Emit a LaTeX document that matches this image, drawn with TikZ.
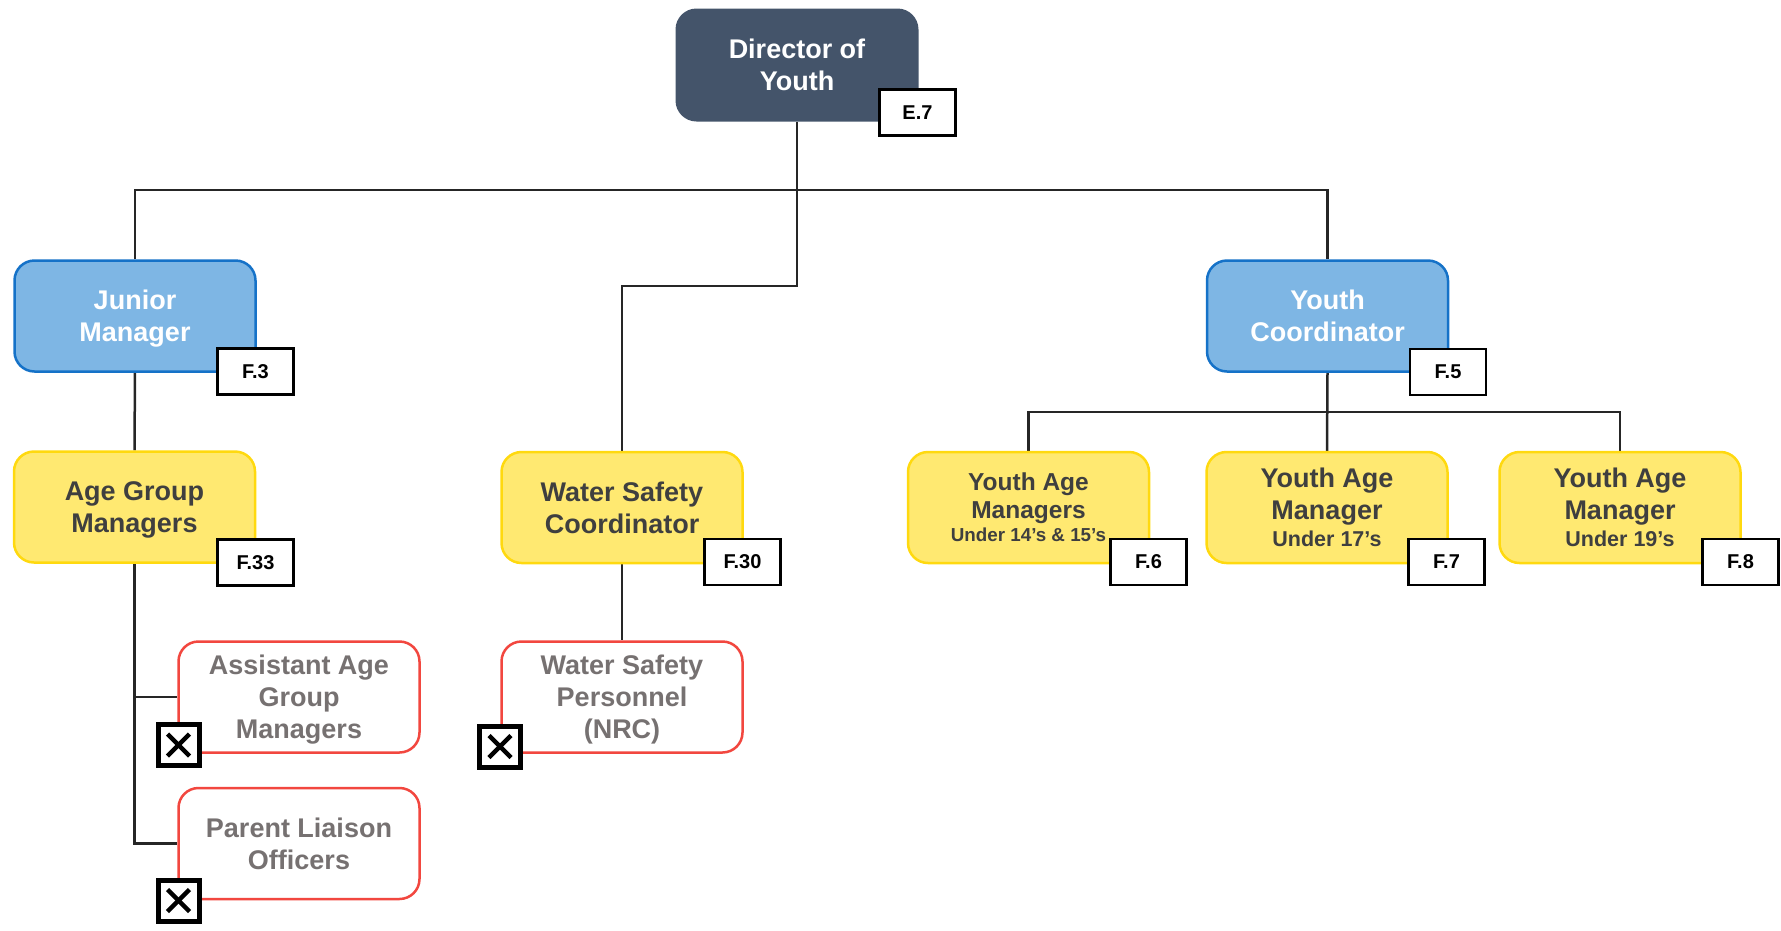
\documentclass[tikz,border=0pt]{standalone}
\usepackage{fontspec}
\setmainfont{Liberation Sans}
\usetikzlibrary{backgrounds}

\definecolor{dirfill}{HTML}{44546A}
\definecolor{bluefill}{HTML}{7EB6E4}
\definecolor{blueline}{HTML}{1572C8}
\definecolor{yelfill}{HTML}{FFE971}
\definecolor{yelline}{HTML}{FFD90F}
\definecolor{redline}{HTML}{F2473F}
\definecolor{greytext}{HTML}{767171}
\definecolor{darktext}{HTML}{3F3F3F}
\definecolor{linkcol}{HTML}{262626}

\begin{document}
\begin{tikzpicture}[x=1pt,y=-1pt,
  role/.style={rectangle, rounded corners=20pt, align=center, inner sep=0pt,
    minimum width=241pt, minimum height=111pt, text depth=0pt,
    font=\bfseries\fontsize{27}{32}\selectfont},
  dirbox/.style={role, fill=dirfill, draw=dirfill, line width=2pt, text=white},
  bluebox/.style={role, fill=bluefill, draw=blueline, line width=2.5pt, text=white},
  yelbox/.style={role, fill=yelfill, draw=yelline, line width=2.5pt, text=darktext},
  redbox/.style={role, fill=white, draw=redline, line width=2.5pt, text=greytext},
  badge/.style={rectangle, fill=white, draw=black, line width=2.5pt, inner sep=0pt,
    minimum width=76pt, minimum height=46pt,
    font=\bfseries\fontsize{20}{22}\selectfont},
  xbox/.style={rectangle, fill=white, draw=black, line width=5pt, inner sep=0pt,
    minimum size=41pt,
    path picture={
      \draw[line width=4.5pt]
        ([shift={(-11pt,-11pt)}]path picture bounding box.center) --
        ([shift={(11pt,11pt)}]path picture bounding box.center);
      \draw[line width=4.5pt]
        ([shift={(-11pt,11pt)}]path picture bounding box.center) --
        ([shift={(11pt,-11pt)}]path picture bounding box.center);
    }},
  link/.style={draw=linkcol, line width=2.5pt}
]
\useasboundingbox (0,0) rectangle (1781,930);

% top level
\node[dirbox] (dir) at (797,65) {Director of\\Youth};
\node[badge] (bdir) at (917.5,112.5) {E.7};

% second level
\node[bluebox] (jm) at (135,316) {Junior\\Manager};
\node[badge] (bjm) at (255.5,371.5) {F.3};
\node[bluebox] (yc) at (1327.5,316) {Youth\\Coordinator};
\node[badge] (byc) at (1448,372) {F.5};

% third level
\node[yelbox] (agm) at (134.5,507) {Age Group\\Managers};
\node[badge] (bagm) at (255.5,562.5) {F.33};
\node[yelbox] (wsc) at (622,507.5) {Water Safety\\Coordinator};
\node[badge] (bwsc) at (742.5,562) {F.30};
\node[yelbox, font=\bfseries\fontsize{24.5}{28}\selectfont] (u14) at (1028.5,507.5)
  {Youth Age\\Managers\\[-5pt]{\fontsize{18.8}{21}\selectfont Under 14’s \& 15’s}};
\node[badge] (bu14) at (1148.5,562) {F.6};
\node[yelbox] (u17) at (1327,507.5)
  {Youth Age\\Manager\\[-5pt]{\fontsize{21.5}{24}\selectfont Under 17’s}};
\node[badge] (bu17) at (1446.5,562) {F.7};
\node[yelbox] (u19) at (1620,507.5)
  {Youth Age\\Manager\\[-5pt]{\fontsize{21.5}{24}\selectfont Under 19’s}};
\node[badge] (bu19) at (1740.5,562) {F.8};

% vacant posts
\node[redbox] (aag) at (299,697) {Assistant Age\\Group\\Managers};
\node[xbox] (xaag) at (178.5,745) {};
\node[redbox] (plo) at (299,843.5) {Parent Liaison\\Officers};
\node[xbox] (xplo) at (178.5,900.5) {};
\node[redbox] (wsp) at (622,697) {Water Safety\\Personnel\\(NRC)};
\node[xbox] (xwsp) at (500,746.5) {};

% reporting lines
\coordinate (topbus) at (797,190);
\coordinate (wsbend) at (797,286);
\coordinate (ycbus) at (1327.5,412);
\begin{scope}[on background layer]
  \draw[link] (jm.north) |- (topbus) -| (yc.north);
  \draw[link] (dir.south) -- (wsbend) -| (wsc.north);
  \draw[link] (jm.south) -- (agm.north);
  \draw[link] (agm.south) |- (aag.west);
  \draw[link] (agm.south) |- (plo.west);
  \draw[link] (wsc.south) -- (wsp.north);
  \draw[link] (yc.south) -- (u17.north);
  \draw[link] (u14.north) |- (ycbus) -| (u19.north);
\end{scope}
\end{tikzpicture}
\end{document}
